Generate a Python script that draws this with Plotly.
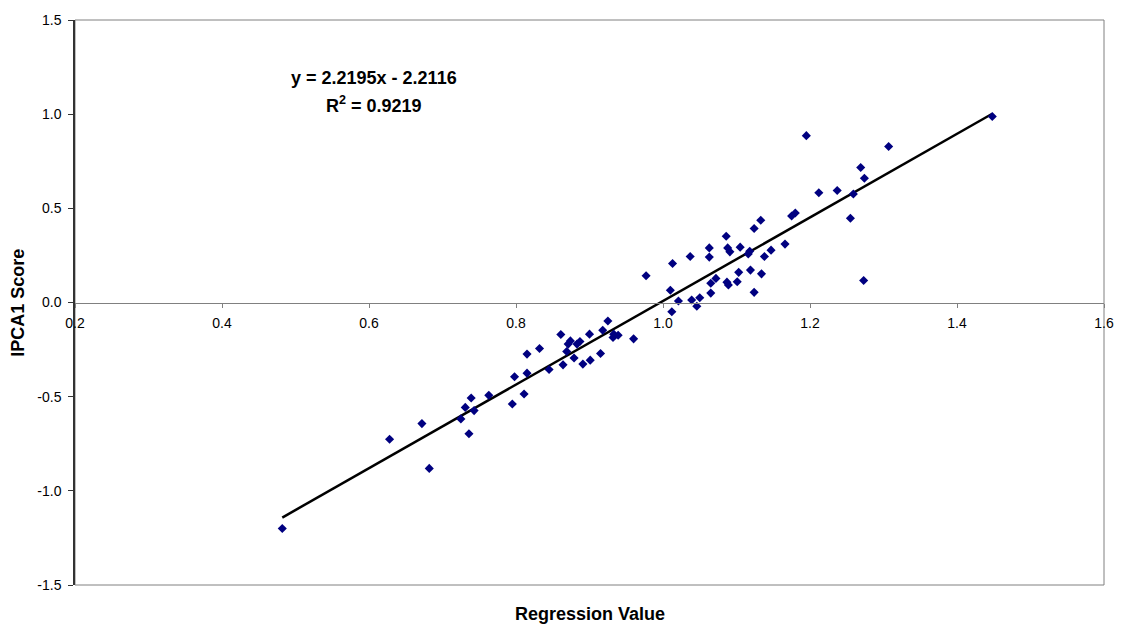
import plotly.graph_objects as go

# Regression value (x) and IPCA1 score (y) for each sample
regression_value = [
    0.482, 0.628, 0.672, 0.682, 0.725, 0.731, 0.739, 0.743, 0.736, 0.763,
    0.795, 0.811, 0.798, 0.815, 0.815, 0.832, 0.845, 0.861, 0.864, 0.869,
    0.871, 0.874, 0.879, 0.883, 0.887, 0.891, 0.900, 0.901, 0.915, 0.918,
    0.925, 0.932, 0.933, 0.939, 0.960, 0.977, 1.010, 1.013, 1.012, 1.021,
    1.037, 1.039, 1.046, 1.050, 1.063, 1.063, 1.065, 1.065, 1.072, 1.086,
    1.088, 1.091, 1.087, 1.089, 1.101, 1.103, 1.105, 1.116, 1.118, 1.119,
    1.124, 1.124, 1.133, 1.134, 1.138, 1.147, 1.166, 1.175, 1.180, 1.195,
    1.212, 1.237, 1.255, 1.259, 1.269, 1.274, 1.273, 1.307, 1.448,
]
ipca1_score = [
    -1.200, -0.726, -0.643, -0.881, -0.618, -0.557, -0.507, -0.574, -0.697, -0.493,
    -0.539, -0.486, -0.394, -0.375, -0.274, -0.244, -0.356, -0.170, -0.331, -0.260,
    -0.221, -0.204, -0.295, -0.221, -0.207, -0.327, -0.168, -0.306, -0.271, -0.147,
    -0.098, -0.186, -0.168, -0.174, -0.193, 0.142, 0.065, 0.207, -0.049, 0.008,
    0.244, 0.013, -0.020, 0.025, 0.290, 0.241, 0.050, 0.102, 0.128, 0.352,
    0.290, 0.269, 0.108, 0.093, 0.110, 0.160, 0.294, 0.258, 0.272, 0.172,
    0.054, 0.393, 0.437, 0.152, 0.244, 0.278, 0.310, 0.459, 0.475, 0.886,
    0.583, 0.595, 0.447, 0.576, 0.717, 0.660, 0.117, 0.828, 0.988,
]

# Linear trendline as reported in the equation label
slope = 2.2195
intercept = -2.2116
r_squared = 0.9219

x_tick_vals = [0.2, 0.4, 0.6, 0.8, 1.0, 1.2, 1.4, 1.6]
x_tick_text = ["0.2", "0.4", "0.6", "0.8", "1.0", "1.2", "1.4", "1.6"]
y_tick_vals = [-1.5, -1.0, -0.5, 0.0, 0.5, 1.0, 1.5]
y_tick_text = ["-1.5", "-1.0", "-0.5", "0.0", "0.5", "1.0", "1.5"]

trend_x = [min(regression_value), max(regression_value)]
trend_y = [slope * v + intercept for v in trend_x]

FONT = "Liberation Sans, Arial, sans-serif"

fig = go.Figure()
fig.add_trace(go.Scatter(
    x=trend_x, y=trend_y, mode="lines",
    line=dict(color="black", width=2.5),
    hoverinfo="skip", showlegend=False,
))
fig.add_trace(go.Scatter(
    x=regression_value, y=ipca1_score, mode="markers",
    marker=dict(symbol="diamond", size=7, color="#000080", line=dict(width=0)),
    showlegend=False,
))

# plot-area frame (top, right, bottom edges in grey)
fig.add_shape(type="rect", xref="paper", yref="paper", x0=0, x1=1, y0=0, y1=1,
              line=dict(color="#808080", width=1), layer="below")

fig.update_layout(
    width=1126, height=626,
    margin=dict(l=75, r=19, t=18, b=41),
    paper_bgcolor="white", plot_bgcolor="white",
    font=dict(family=FONT, size=14, color="black"),
    xaxis=dict(
        range=[0.2, 1.6], tickvals=x_tick_vals, ticktext=x_tick_text,
        anchor="free", position=0.5,
        showline=True, linecolor="#808080", linewidth=1,
        ticks="outside", ticklen=4, tickcolor="#808080",
        ticklabelstandoff=4,
        showgrid=False, zeroline=False,
        tickfont=dict(family=FONT, size=14, color="black"),
    ),
    yaxis=dict(
        range=[-1.5, 1.5], tickvals=y_tick_vals, ticktext=y_tick_text,
        showline=True, linecolor="#333333", linewidth=1.5,
        ticks="outside", ticklen=5, tickcolor="#333333",
        ticklabelstandoff=4,
        showgrid=False, zeroline=False,
        tickfont=dict(family=FONT, size=14, color="black"),
    ),
    annotations=[
        dict(text=f"y = {slope}x - {abs(intercept)}", x=0.607, y=1.190,
             xref="x", yref="y", showarrow=False, xanchor="center", yanchor="middle",
             font=dict(family=FONT, size=18, color="black", weight="bold")),
        dict(text=f"R<sup>2</sup> = {r_squared}", x=0.607, y=1.052,
             xref="x", yref="y", showarrow=False, xanchor="center", yanchor="middle",
             font=dict(family=FONT, size=18, color="black", weight="bold")),
        dict(text="Regression Value", x=0.5, y=-0.051, xref="paper", yref="paper",
             showarrow=False, xanchor="center", yanchor="middle",
             font=dict(family=FONT, size=18, color="black", weight="bold")),
        dict(text="IPCA1 Score", x=-0.0562, y=0.5, xref="paper", yref="paper",
             textangle=-90, showarrow=False, xanchor="center", yanchor="middle",
             font=dict(family=FONT, size=18, color="black", weight="bold")),
    ],
)

fig.write_html("out.html")
